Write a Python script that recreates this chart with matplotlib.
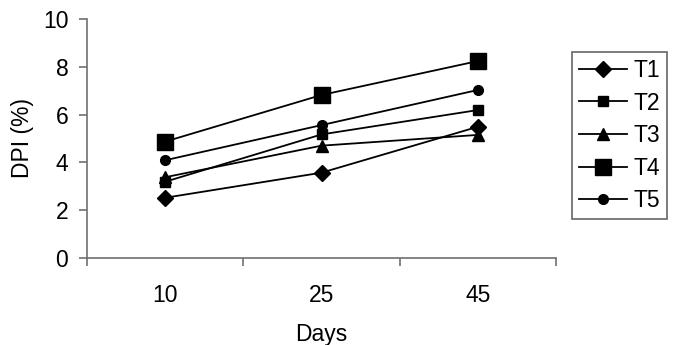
import numpy as np
import matplotlib
matplotlib.use("Agg")
import matplotlib.pyplot as plt

days = ["10", "25", "45"]
t1 = [2.52, 3.57, 5.49]
t2 = [3.19, 5.17, 6.19]
t3 = [3.38, 4.70, 5.15]
t4 = [4.87, 6.82, 8.24]
t5 = [4.09, 5.56, 7.03]

series = [
    ("T1", t1, "D", 8.5),
    ("T2", t2, "s", 7),
    ("T3", t3, "^", 8),
    ("T4", t4, "s", 11),
    ("T5", t5, "o", 7),
]

plt.rcParams["font.family"] = ["Liberation Sans", "DejaVu Sans"]
plt.rcParams["font.size"] = 16.5

fig = plt.figure(figsize=(6.73, 3.45), dpi=100)
ax = fig.add_axes([87 / 673, 1 - 258 / 345, (556 - 87) / 673, (258 - 19) / 345])

x = np.arange(len(days))
for name, vals, marker, ms in series:
    ax.plot(x, vals, color="black", lw=1.3, marker=marker, markersize=ms,
            markerfacecolor="black", markeredgecolor="black", label=name)

axis_col = "#707070"
ax.set_xlim(-0.5, len(days) - 0.5)
ax.set_ylim(0, 10)
ax.set_yticks(np.arange(0, 11, 2))
ax.set_xticks(x)
ax.set_xticklabels(days)
ax.set_xticks(np.arange(-0.5, len(days), 1.0), minor=True)

for side in ["top", "right"]:
    ax.spines[side].set_visible(False)
for side in ["left", "bottom"]:
    ax.spines[side].set_color(axis_col)
    ax.spines[side].set_linewidth(1.2)

ax.tick_params(axis="x", which="major", length=0, pad=19)
ax.tick_params(axis="x", which="minor", length=6, width=1.2, color=axis_col, direction="out")
ax.tick_params(axis="y", length=6, width=1.2, color=axis_col, direction="out", pad=7.5)

ax.set_xlabel("Days", labelpad=11)
ax.set_ylabel("DPI (%)", labelpad=6)

leg = fig.legend(loc="upper left", bbox_to_anchor=(572 / 673, 1 - 52 / 345),
                 borderaxespad=0, frameon=True, fancybox=False, handlelength=2.1,
                 labelspacing=0.42, handletextpad=0.3, borderpad=0.3)
leg.get_frame().set_edgecolor("#404040")
leg.get_frame().set_linewidth(1.2)

fig.savefig("out.png", dpi=100)
